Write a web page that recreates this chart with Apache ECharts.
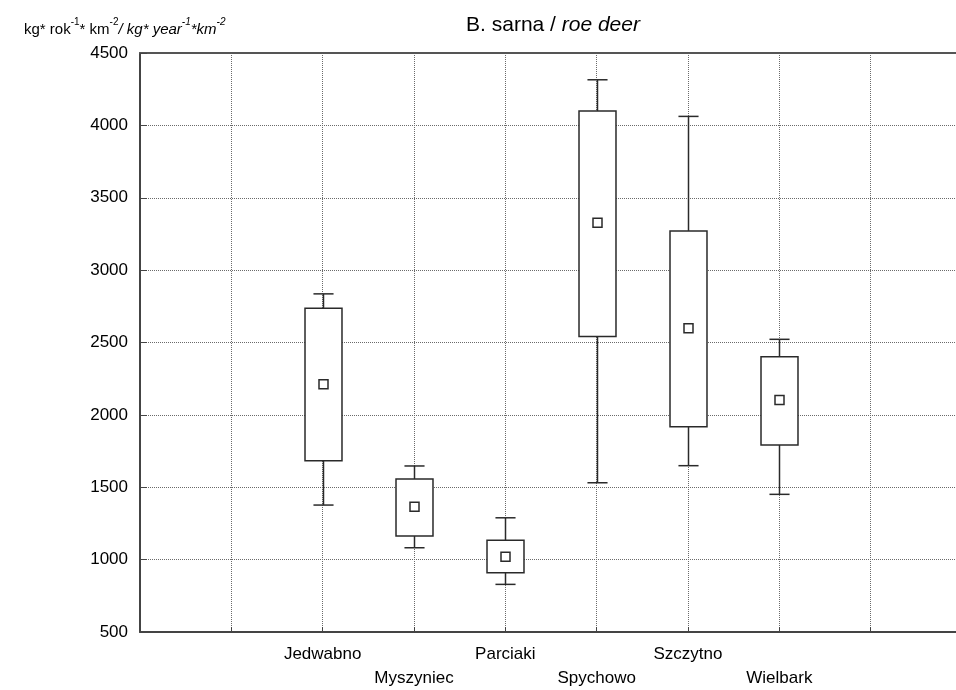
<!DOCTYPE html>
<html>
<head>
<meta charset="utf-8">
<script src="https://cdn.jsdelivr.net/npm/echarts@6/dist/echarts.min.js"></script>
<style>
  html, body { margin: 0; padding: 0; background: #fff; }
  #chart { width: 956px; height: 690px; }
</style>
</head>
<body>
<div id="chart"></div>
<script>
// Roe deer biomass by forest district (kg * year^-1 * km^-2)
const categories = ['Jedwabno', 'Myszyniec', 'Parciaki', 'Spychowo', 'Szczytno', 'Wielbark'];
const whiskerMax = [2836, 1647, 1289, 4315, 4062, 2522];
const boxTop     = [2737, 1557, 1133, 4099, 3271, 2402];
const meanValue  = [2211, 1365, 1020, 3327, 2598, 2103];
const boxBottom  = [1683, 1163,  909, 2541, 1918, 1792];
const whiskerMin = [1377, 1082,  829, 1531, 1649, 1451];
const yTicks = { min: 500, max: 4500, step: 500 };

// the category slots sit between two empty slots on each side
const LEAD_SLOTS = 2;
const SLOT_COUNT = categories.length + 2 * LEAD_SLOTS - 1;

const rows = categories.map((c, i) => [
  i + LEAD_SLOTS, whiskerMin[i], boxBottom[i], meanValue[i], boxTop[i], whiskerMax[i]
]);

const FONT = '"Liberation Sans", Arial, sans-serif';
const INK = '#2a2a2a';

function renderBox(params, api) {
  const x = api.value(0);
  const pMin = api.coord([x, api.value(1)]);
  const pQ1 = api.coord([x, api.value(2)]);
  const pMean = api.coord([x, api.value(3)]);
  const pQ3 = api.coord([x, api.value(4)]);
  const pMax = api.coord([x, api.value(5)]);
  const slot = api.size([1, 0])[0];
  const boxW = slot * 0.405;
  const capW = slot * 0.22;
  const cx = Math.round(pMean[0]) + 0.5;
  const line = { stroke: INK, lineWidth: 1.5, fill: null };
  const sq = 9;
  return {
    type: 'group',
    children: [
      { type: 'line', shape: { x1: cx, y1: pMax[1], x2: cx, y2: pQ3[1] }, style: line },
      { type: 'line', shape: { x1: cx - capW / 2, y1: pMax[1], x2: cx + capW / 2, y2: pMax[1] }, style: line },
      { type: 'line', shape: { x1: cx, y1: pQ1[1], x2: cx, y2: pMin[1] }, style: line },
      { type: 'line', shape: { x1: cx - capW / 2, y1: pMin[1], x2: cx + capW / 2, y2: pMin[1] }, style: line },
      { type: 'rect', shape: { x: cx - boxW / 2, y: pQ3[1], width: boxW, height: pQ1[1] - pQ3[1] },
        style: { fill: '#fff', stroke: INK, lineWidth: 1.5 } },
      { type: 'rect', shape: { x: cx - sq / 2, y: pMean[1] - sq / 2, width: sq, height: sq },
        style: { fill: '#fff', stroke: INK, lineWidth: 1.5 } }
    ]
  };
}

const chart = echarts.init(document.getElementById('chart'), null, { renderer: 'canvas' });

const plain = { fontFamily: FONT, fontWeight: 'normal', color: '#000' };

const option = {
  animation: false,
  backgroundColor: '#fff',
  title: [
    {
      text: '{n|B. sarna / }{i|roe deer}',
      left: 548, top: 10, textAlign: 'center',
      textStyle: {
        fontWeight: 'normal',
        rich: {
          n: Object.assign({ fontSize: 21 }, plain),
          i: Object.assign({ fontSize: 21, fontStyle: 'italic' }, plain)
        }
      }
    },
    {
      text: '{n|kg* rok}{s|-1}{n|* km}{s|-2}{i|/ kg* year}{si|-1}{i|*km}{si|-2}',
      left: 19, top: 12,
      textStyle: {
        fontWeight: 'normal',
        rich: {
          n: Object.assign({ fontSize: 15, lineHeight: 20, verticalAlign: 'bottom' }, plain),
          i: Object.assign({ fontSize: 15, fontStyle: 'italic', lineHeight: 20, verticalAlign: 'bottom' }, plain),
          s: Object.assign({ fontSize: 10, lineHeight: 20, verticalAlign: 'top', padding: [0, 0, 8, 0] }, plain),
          si: Object.assign({ fontSize: 10, fontStyle: 'italic', lineHeight: 20, verticalAlign: 'top', padding: [0, 0, 8, 0] }, plain)
        }
      }
    }
  ],
  grid: { left: 140, top: 53, width: 822, height: 579, containLabel: false, outerBoundsMode: 'none' },
  xAxis: [
    {
      type: 'value', position: 'bottom',
      min: 0, max: SLOT_COUNT, interval: 1,
      axisLine: { show: true, lineStyle: { color: '#444', width: 2 } },
      axisTick: { show: true, inside: true, length: 5, lineStyle: { color: '#444' } },
      splitLine: { show: true, lineStyle: { color: '#6a6a6a', type: 'dotted', width: 1 } },
      axisLabel: {
        margin: 10,
        fontFamily: FONT, fontSize: 17, color: '#000', lineHeight: 24,
        formatter: function (v) {
          const i = Math.round(v) - LEAD_SLOTS;
          if (i < 0 || i >= categories.length) return '';
          return i % 2 === 0 ? categories[i] : '\n' + categories[i];
        }
      }
    },
    {
      type: 'value', position: 'top',
      min: 0, max: SLOT_COUNT, interval: 1,
      axisLine: { show: true, lineStyle: { color: '#555', width: 2 } },
      axisTick: { show: false },
      splitLine: { show: false },
      axisLabel: { show: false }
    }
  ],
  yAxis: {
    type: 'value',
    min: yTicks.min, max: yTicks.max, interval: yTicks.step,
    axisLine: { show: true, lineStyle: { color: '#444', width: 2 } },
    axisTick: { show: true, inside: true, length: 7, lineStyle: { color: '#444' } },
    splitLine: { show: true, lineStyle: { color: '#6a6a6a', type: 'dotted', width: 1 } },
    axisLabel: {
      margin: 12, fontFamily: FONT, fontSize: 17, color: '#000',
      formatter: function (v) { return String(v); }
    }
  },
  series: [
    {
      type: 'custom',
      xAxisIndex: 0,
      renderItem: renderBox,
      encode: { x: 0, y: [1, 2, 3, 4, 5] },
      data: rows,
      z: 5
    }
  ]
};

chart.setOption(option);
</script>
</body>
</html>
